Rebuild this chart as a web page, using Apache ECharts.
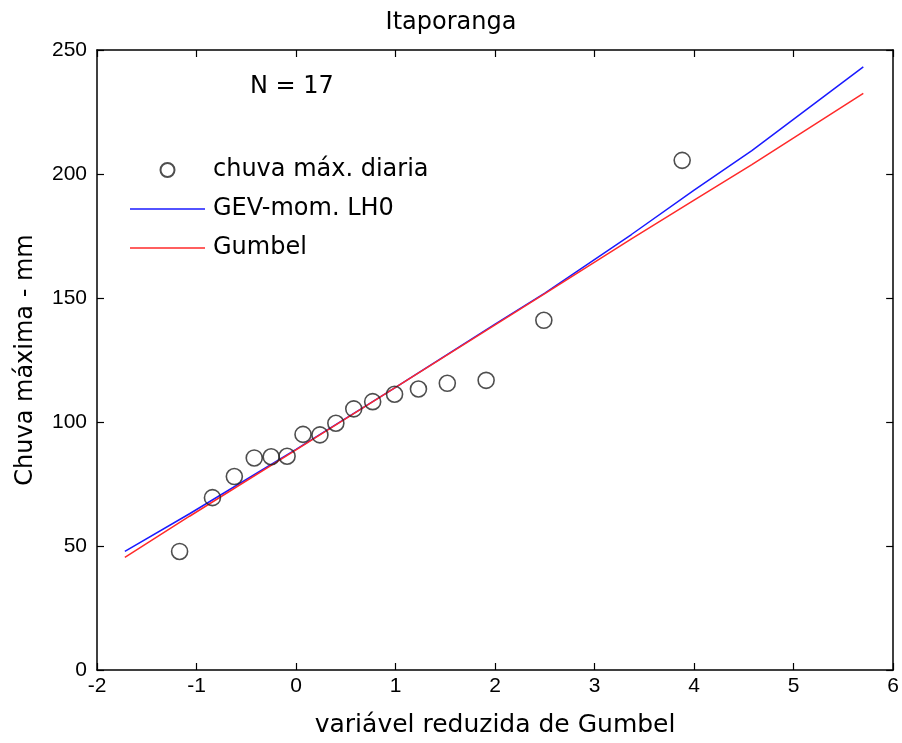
<!DOCTYPE html>
<html>
<head>
<meta charset="utf-8">
<script src="https://cdn.jsdelivr.net/npm/echarts@6/dist/echarts.min.js"></script>
<style>
  html, body { margin: 0; padding: 0; background: #fff; }
  #chart { width: 902px; height: 743px; }
</style>
</head>
<body>
<div id="chart"></div>
<script>
// observed annual max daily rainfall vs Gumbel reduced variate
const obsX = [-1.17, -0.84, -0.62, -0.42, -0.25, -0.09, 0.07, 0.24, 0.40, 0.58, 0.77, 0.99, 1.23, 1.52, 1.91, 2.49, 3.88];
const obsY = [47.8, 69.5, 78, 85.5, 86, 86.2, 95, 94.8, 99.5, 105.3, 108.2, 111.2, 113.3, 115.6, 116.8, 141, 205.5];

// fitted curves
const gevX = [-1.72, -1.07, 0, 1, 2, 2.5, 3.37, 4.0, 4.58, 5.7];
const gevY = [47.8, 63, 89, 114, 139.5, 152, 175.6, 193.5, 209.4, 243.2];
const gumX = [-1.72, -1.07, 0, 1, 2, 2.5, 3.37, 4.0, 4.58, 5.7];
const gumY = [45.4, 62, 88.8, 114, 139.2, 151.8, 173.8, 189.5, 203.8, 232.5];

const xTicks = { min: -2, max: 6, interval: 1 };
const yTicks = { min: 0, max: 250, interval: 50 };

const zip = (xs, ys) => xs.map((x, i) => [x, ys[i]]);

const font = 'DejaVu Sans';
const tickFont = 'Liberation Sans';
const lineIcon = 'path://M0,0 L100,0 L100,2 L0,2 Z';
const chart = echarts.init(document.getElementById('chart'));

const axisCommon = {
    axisLine: { show: true, onZero: false, lineStyle: { color: '#000', width: 1.5 } },
    axisTick: { show: true, inside: true, length: 7, lineStyle: { color: '#000', width: 1.2 } },
    splitLine: { show: false }
};

chart.setOption({
    backgroundColor: '#fff',
    animation: false,
    title: {
        text: 'Itaporanga',
        left: 'center',
        top: 6,
        textStyle: { fontFamily: font, fontSize: 24, fontWeight: 'normal', color: '#000' }
    },
    grid: { left: 97, right: 7, top: 50, bottom: 65 },
    legend: {
        orient: 'vertical',
        left: 125,
        top: 153,
        itemWidth: 75,
        itemHeight: 14,
        itemGap: 15,
        textStyle: { fontFamily: font, fontSize: 24, color: '#000', padding: [0, 0, 0, 3] },
        data: [
            { name: 'chuva máx. diaria', icon: 'circle' },
            { name: 'GEV-mom. LH0', icon: lineIcon },
            { name: 'Gumbel', icon: lineIcon }
        ]
    },
    graphic: [{
        type: 'text',
        left: 250,
        top: 75,
        style: { text: 'N = 17', fontFamily: font, fontSize: 24, fill: '#000' }
    }],
    xAxis: [
        Object.assign({}, axisCommon, {
            type: 'value',
            min: xTicks.min, max: xTicks.max, interval: xTicks.interval,
            name: 'variável reduzida de Gumbel',
            nameLocation: 'middle',
            nameGap: 43,
            nameTextStyle: { fontFamily: font, fontSize: 25, color: '#000' },
            axisLabel: { fontFamily: tickFont, fontSize: 21, color: '#000', margin: 6 }
        }),
        Object.assign({}, axisCommon, {
            type: 'value', position: 'top',
            min: xTicks.min, max: xTicks.max, interval: xTicks.interval,
            axisLabel: { show: false }
        })
    ],
    yAxis: [
        Object.assign({}, axisCommon, {
            type: 'value',
            min: yTicks.min, max: yTicks.max, interval: yTicks.interval,
            name: 'Chuva máxima - mm',
            nameLocation: 'middle',
            nameGap: 59,
            nameTextStyle: { fontFamily: font, fontSize: 24, color: '#000' },
            axisLabel: { fontFamily: tickFont, fontSize: 21, color: '#000', margin: 10 }
        }),
        Object.assign({}, axisCommon, {
            type: 'value', position: 'right',
            min: yTicks.min, max: yTicks.max, interval: yTicks.interval,
            axisLabel: { show: false }
        })
    ],
    series: [
        {
            name: 'chuva máx. diaria',
            type: 'scatter',
            symbol: 'circle',
            symbolSize: 16,
            itemStyle: { color: 'rgba(255,255,255,0)', borderColor: '#222', borderWidth: 1.6 },
            data: zip(obsX, obsY),
            z: 5
        },
        {
            name: 'GEV-mom. LH0',
            type: 'line',
            symbol: 'none',
            lineStyle: { color: '#1a1aff', width: 1.5 },
            itemStyle: { color: '#1a1aff' },
            data: zip(gevX, gevY)
        },
        {
            name: 'Gumbel',
            type: 'line',
            symbol: 'none',
            lineStyle: { color: '#ff2a2a', width: 1.5 },
            itemStyle: { color: '#ff2a2a' },
            data: zip(gumX, gumY)
        }
    ]
});
</script>
</body>
</html>
